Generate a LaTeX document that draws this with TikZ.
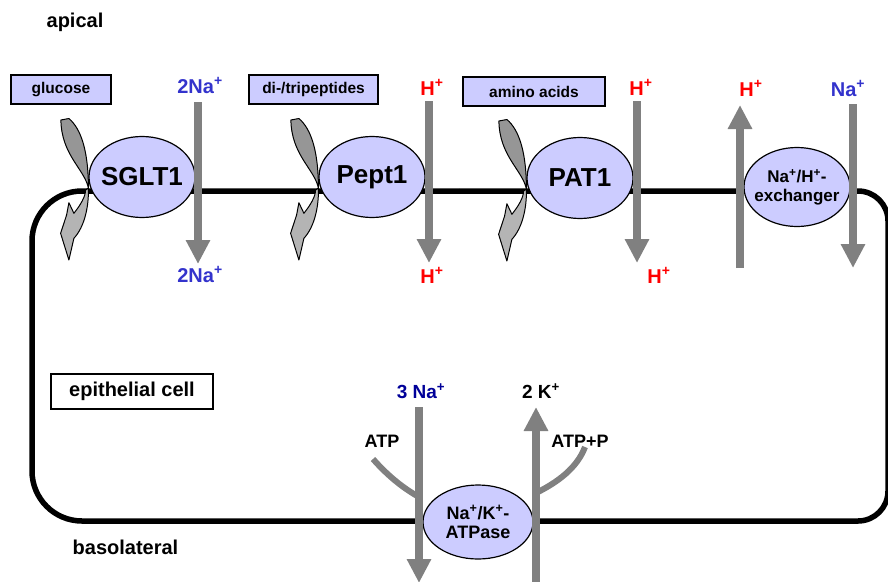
\documentclass[tikz,border=0pt]{standalone}
\usepackage{fontspec}
\setmainfont{Liberation Sans}
\usepackage{xcolor}
\usepackage{tikz}
\usetikzlibrary{arrows.meta, positioning, shapes.geometric}
\definecolor{lavender}{RGB}{204,204,255}
\definecolor{ionblue}{RGB}{51,51,204}
\definecolor{deepblue}{RGB}{0,0,153}
\definecolor{fluxgrey}{RGB}{128,128,128}
\definecolor{flipdark}{RGB}{150,150,150}
\definecolor{fliplight}{RGB}{180,180,180}

\begin{document}
\begin{tikzpicture}[
  x=1pt, y=-1pt,
  transporter/.style={ellipse, draw, line width=1.2pt, fill=lavender, inner sep=-6pt,
              minimum width=106pt, minimum height=81pt, align=center,
              font=\bfseries\fontsize{26}{28}\selectfont},
  substrate/.style={draw, line width=1.2pt, fill=lavender, minimum height=29pt,
              inner sep=0pt, font=\bfseries\fontsize{15.5}{18}\selectfont},
  cellbox/.style={draw, line width=1.2pt, fill=white, minimum width=162pt,
              minimum height=35pt, font=\bfseries\fontsize{20}{22}\selectfont},
  side/.style={anchor=base, font=\bfseries\fontsize{20}{22}\selectfont},
  ion/.style={anchor=base, font=\bfseries\fontsize{20}{22}\selectfont},
  pumpion/.style={anchor=base, font=\bfseries\fontsize{19}{21}\selectfont},
  proton/.style={anchor=base, red, font=\bfseries\fontsize{20}{22}\selectfont},
  flux/.style={draw=fluxgrey, line width=8pt, -{Triangle[width=23pt,length=24pt]}},
  energy/.style={draw=fluxgrey, line width=6pt},
  membrane/.style={line width=5.5pt},
  flipper/.pic={
    \draw[fill=flipdark, line width=1pt, line join=round]
      (-27.5,-57) -- (-19.5,-58.5) .. controls (-7,-48) and (0,-25) .. (0,11)
      .. controls (-4,-8) and (-27,-22) .. (-27.5,-57) -- cycle;
    \draw[fill=fliplight, line width=1pt, line join=round]
      (0,11) .. controls (0.5,30) and (-4,50) .. (-14.5,61.3) -- (-19.5,83)
      -- (-27.8,56.3) -- (-21.8,38) -- (-19.5,25.7) -- (-14.5,36.3)
      .. controls (-8,28) and (-3,20) .. (-2.8,13) -- cycle;
  }
]
\useasboundingbox (0,0) rectangle (888,581);

% cell outline
\draw[membrane, rounded corners=50pt] (459,521) -| (32,191) -- (459,191);
\draw[membrane, rounded corners=30pt] (459,191) -| (888,521) -- (459,521);

% transporters
\node[transporter] (sglt) at (142,177) {SGLT1};
\node[transporter] (pept) at (372,177) {Pept1};
\node[transporter] (pat) at (580,178) {PAT1};
\node[transporter, minimum height=79pt, font=\bfseries\fontsize{17}{19}\selectfont]
  (nhe) at (797,187) {Na\textsuperscript{+}/H\textsuperscript{+}-\\exchanger};
\node[transporter, minimum width=110pt, minimum height=74pt, font=\bfseries\fontsize{18}{19}\selectfont]
  (atpase) at (478,522) {Na\textsuperscript{+}/K\textsuperscript{+}-\\ATPase};

% substrates
\node[substrate, minimum width=100pt] (glc) at (61,89.5) {glucose};
\node[substrate, minimum width=129pt] (pep) at (313.5,89.5) {di-/tripeptides};
\node[substrate, minimum width=142pt] (aa) at (534,91.5) {amino acids};
\node[cellbox] (cell) at (132,391.5) {epithelial cell};

\node[side] (api) at (75,27) {apical};
\node[side] (baso) at (125.5,554) {basolateral};

% substrate carriers
\pic at (sglt.west) {flipper};
\pic at (pept.west) {flipper};
\pic at (pat.west) {flipper};

% ion labels
\node[ion, ionblue] (na-lum) at (200,93) {2Na\textsuperscript{+}};
\node[ion, ionblue] (na-cyt) at (200,282) {2Na\textsuperscript{+}};
\node[proton] (h-pep-lum) at (432,95) {H\textsuperscript{+}};
\node[proton] (h-pep-cyt) at (432,283) {H\textsuperscript{+}};
\node[proton] (h-pat-lum) at (641,95) {H\textsuperscript{+}};
\node[proton] (h-pat-cyt) at (659,283) {H\textsuperscript{+}};
\node[proton] (h-nhe) at (751,96) {H\textsuperscript{+}};
\node[proton, ionblue] (na-nhe) at (848,96) {Na\textsuperscript{+}};
\node[pumpion, deepblue] (na-pump) at (421,398) {3 Na\textsuperscript{+}};
\node[pumpion] (k-pump) at (541,398) {2 K\textsuperscript{+}};
\node[ion, font=\bfseries\fontsize{18}{20}\selectfont] (atp) at (382,447) {ATP};
\node[ion, font=\bfseries\fontsize{18}{20}\selectfont] (adp) at (580,447) {ATP+P};

% flux ends
\coordinate (sglt-in) at (198,102);  \coordinate (sglt-out) at (198,264);
\coordinate (pept-in) at (429,101);  \coordinate (pept-out) at (429,263);
\coordinate (pat-in) at (637,101);   \coordinate (pat-out) at (637,263);
\coordinate (nhe-h0) at (740,268);   \coordinate (nhe-h1) at (740,105);
\coordinate (nhe-na0) at (853,104);  \coordinate (nhe-na1) at (853,268);
\coordinate (pump-na0) at (419,407); \coordinate (pump-na1) at (419,583);
\coordinate (pump-k0) at (536,595);  \coordinate (pump-k1) at (536,407);
\coordinate (atp-in) at (373,459);   \coordinate (atp-on) at (419,497);
\coordinate (adp-on) at (536,493);   \coordinate (adp-out) at (585,447);

% ATP use
\draw[energy] (atp-in) .. controls (388,476) and (403,488) .. (atp-on);
\draw[energy] (adp-on) .. controls (558,482) and (577,468) .. (adp-out);

% ion fluxes
\draw[flux] (sglt-in) -- (sglt-out);
\draw[flux] (pept-in) -- (pept-out);
\draw[flux] (pat-in) -- (pat-out);
\draw[flux] (nhe-h0) -- (nhe-h1);
\draw[flux] (nhe-na0) -- (nhe-na1);
\draw[flux] (pump-na0) -- (pump-na1);
\draw[flux] (pump-k0) -- (pump-k1);
\end{tikzpicture}
\end{document}
